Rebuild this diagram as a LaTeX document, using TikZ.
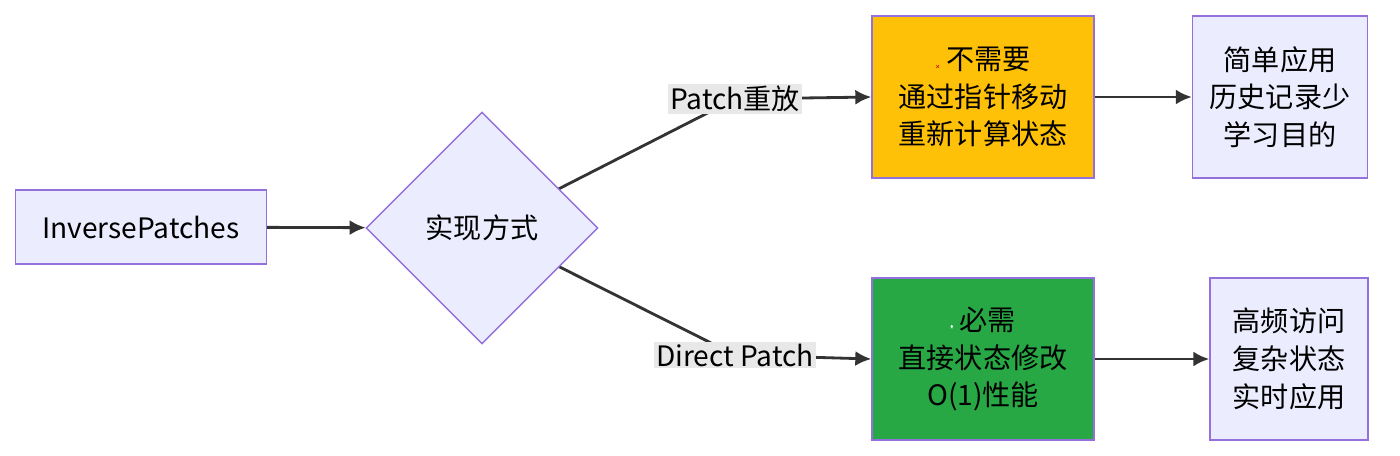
\documentclass[tikz,border=0pt]{standalone}
\usepackage{fontspec}
\setmainfont{Noto Sans CJK SC}
\usetikzlibrary{shapes.geometric,arrows.meta,backgrounds}
\definecolor{boxfill}{HTML}{ECECFF}
\definecolor{boxline}{HTML}{9370DB}
\definecolor{edgegray}{HTML}{333333}
\definecolor{lblfill}{HTML}{E8E8E8}
\definecolor{warnfill}{HTML}{FFC107}
\definecolor{okfill}{HTML}{28A745}
\newcommand{\nomark}{\tikz[baseline=-0.1em,line width=2.2pt,red!85!black]{\draw (-0.16,-0.16) -- (0.16,0.16) (-0.16,0.16) -- (0.16,-0.16);}}
\newcommand{\okmark}{\tikz[baseline=-0.1em]{\fill[okfill!85!green,rounded corners=1.5pt] (-0.2,-0.2) rectangle (0.2,0.2);
  \draw[white,line width=1.8pt] (-0.11,0) -- (-0.03,-0.1) -- (0.12,0.11);}}
\tikzset{
  box/.style={draw=boxline,fill=boxfill,line width=0.8pt,font=\fontsize{16}{21.5}\selectfont,align=center,inner sep=0pt},
  decide/.style={diamond,draw=boxline,fill=boxfill,line width=0.8pt,font=\fontsize{16}{21.5}\selectfont,minimum width=4.64cm,minimum height=4.64cm,inner sep=0pt},
  lbl/.style={fill=lblfill,font=\fontsize{16}{20}\selectfont,inner sep=1pt},
  arr/.style={draw=edgegray,line width=1.6pt,-{Latex[length=0.32cm,width=0.3cm]}}
}
\begin{document}
\begin{tikzpicture}[x=0.02cm,y=-0.02cm]
  \useasboundingbox (0,0) rectangle (1400,456);
  % nodes
  \node[box,minimum width=5.02cm,minimum height=1.48cm] (inv) at (141,227) {InversePatches};
  \node[decide] (way) at (482,228) {实现方式};
  \node[box,fill=warnfill,minimum width=4.44cm,minimum height=3.24cm] (replay) at (983,97) {\nomark\ 不需要\\通过指针移动\\重新计算状态};
  \node[box,minimum width=3.5cm,minimum height=3.24cm] (simple) at (1280,97) {简单应用\\历史记录少\\学习目的};
  \node[box,fill=okfill,minimum width=4.44cm,minimum height=3.24cm] (direct) at (983,359) {\okmark\ 必需\\直接状态修改\\O(1)性能};
  \node[box,minimum width=3.16cm,minimum height=3.24cm] (busy) at (1289,359) {高频访问\\复杂状态\\实时应用};
  \node[lbl] (l1) at (735,99) {Patch重放};
  \node[lbl] (l2) at (735,355) {Direct Patch};
  % edges
  \begin{scope}[on background layer]
    \draw[arr] (way.center) -- (l1.center) -- (replay.west);
    \draw[arr] (way.center) -- (l2.center) -- (direct.west);
  \end{scope}
  \draw[arr] (inv) -- (way);
  \draw[arr] (replay) -- (simple);
  \draw[arr] (direct) -- (busy);
\end{tikzpicture}
\end{document}
